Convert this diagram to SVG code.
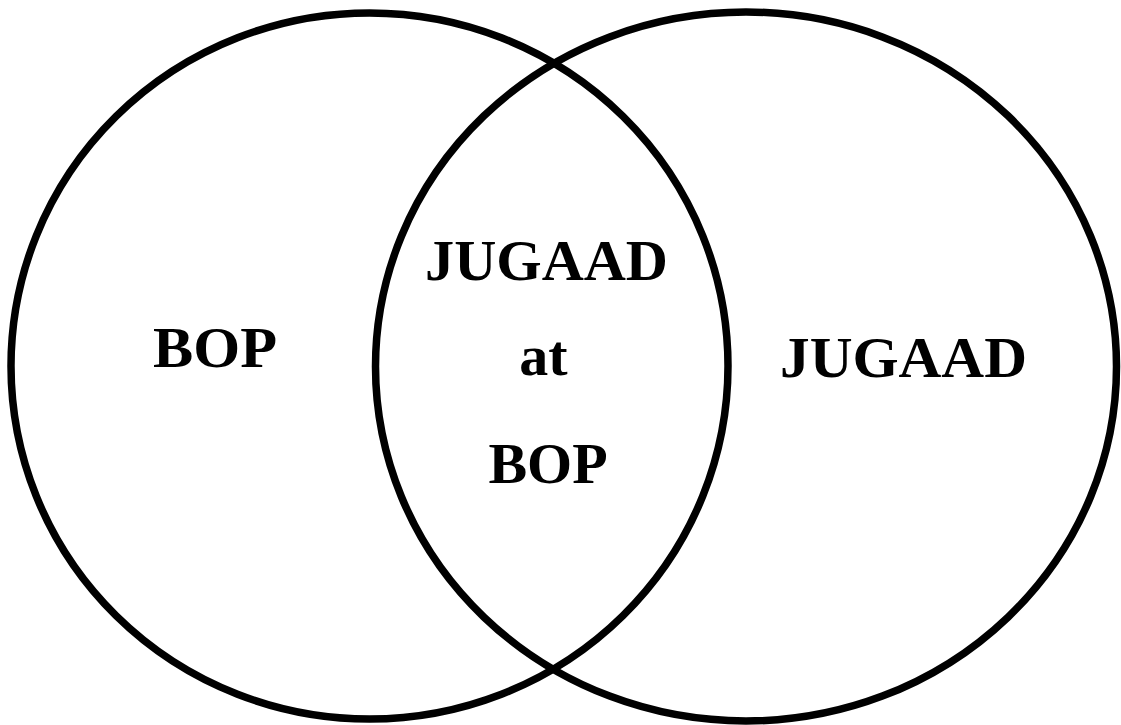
<svg xmlns="http://www.w3.org/2000/svg" width="1121" height="725" viewBox="0 0 1121 725">
<style>
.c{fill:none;stroke:#000;stroke-width:7.5}
.t{font-family:"Liberation Serif","Times New Roman",serif;font-weight:bold;font-size:58px;fill:#000;text-anchor:middle}
</style>
<rect width="1121" height="725" fill="#fff"/>
<g id="set-bop"><ellipse class="c" cx="369.5" cy="366" rx="358.5" ry="353"/><text class="t" x="215" y="367" textLength="124" lengthAdjust="spacingAndGlyphs">BOP</text></g>
<g id="set-jugaad"><ellipse class="c" cx="746" cy="366.5" rx="370.5" ry="354.5"/><text class="t" x="903.5" y="377" textLength="247" lengthAdjust="spacingAndGlyphs">JUGAAD</text></g>
<g id="intersection"><text class="t" x="546.5" y="280" textLength="243" lengthAdjust="spacingAndGlyphs">JUGAAD</text><text class="t" x="543.5" y="375">at</text><text class="t" x="548" y="483">BOP</text></g>
<g id="connectors"/>
</svg>
